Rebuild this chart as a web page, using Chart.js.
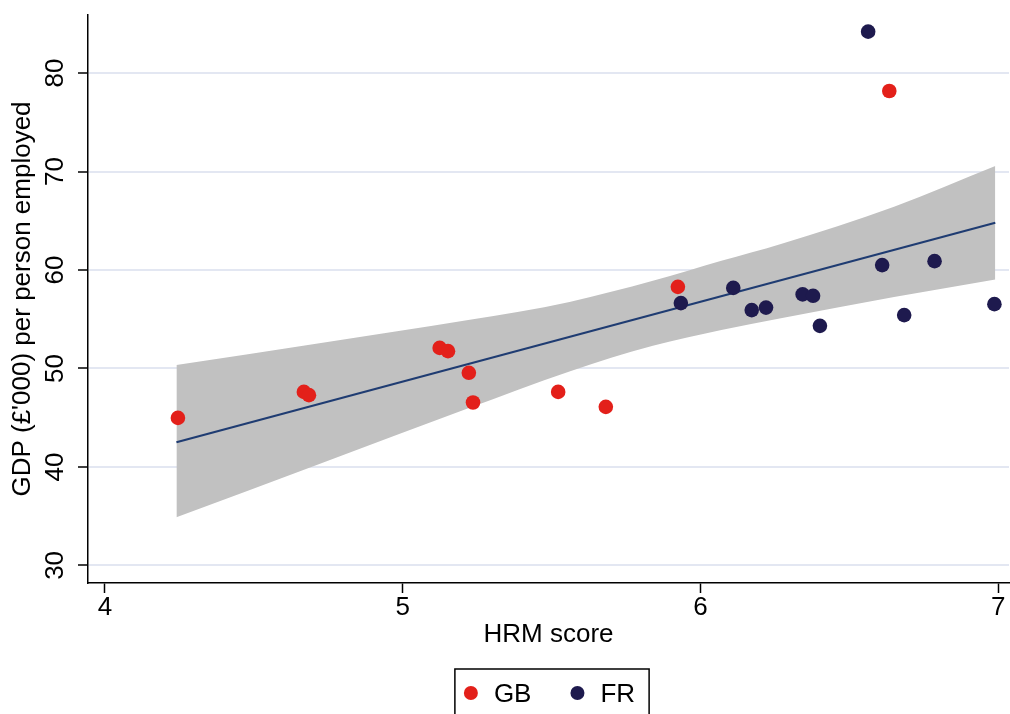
<!DOCTYPE html>
<html>
<head>
<meta charset="utf-8">
<script src="https://cdn.jsdelivr.net/npm/chart.js@4"></script>
<style>
  html, body { margin: 0; padding: 0; background: #fff; overflow: hidden; }
  canvas { display: block; }
</style>
</head>
<body>
<canvas id="chart" width="1010" height="714"></canvas>
<script>
// ---------------------------------------------------------------
// data
// ---------------------------------------------------------------
const gbX = [4.245, 4.668, 4.685, 5.124, 5.152, 5.222, 5.236, 5.522, 5.682, 5.924, 6.634];
const gbY = [44.98, 47.62, 47.29, 52.09, 51.76, 49.56, 46.54, 47.62, 46.10, 58.29, 78.18];

const frX = [6.563, 5.934, 6.110, 6.172, 6.220, 6.343, 6.378, 6.401, 6.610, 6.684, 6.786, 6.987];
const frY = [84.21, 56.64, 58.18, 55.93, 56.18, 57.52, 57.38, 54.33, 60.50, 55.42, 60.90, 56.53];

// fitted line and its confidence band
const fitX = [4.24, 6.99];
const fitY = [42.51, 64.80];
const bandX  = [4.24, 4.72, 5.22, 5.56, 5.84, 6.07, 6.27, 6.65, 6.99];
const bandHi = [50.34, 52.57, 54.91, 56.76, 58.90, 60.93, 62.65, 66.42, 70.56];
const bandLo = [34.89, 40.30, 45.95, 49.70, 52.30, 53.90, 55.10, 57.25, 59.04];

const xTicks = [4, 5, 6, 7];
const yTicks = [30, 40, 50, 60, 70, 80];

const xTitle = 'HRM score';
const yTitle = "GDP (£'000) per person employed";

// ---------------------------------------------------------------
// styles
// ---------------------------------------------------------------
const FONT = "'Liberation Sans', Arial, sans-serif";
const FS = 26;
const RED = '#e3201a';
const NAVY = '#1e1a4e';
const LINE = '#1f3c72';
const BAND = '#c1c1c1';
const GRID = '#e3e7f2';

const pts = (xs, ys) => xs.map((x, i) => ({ x: x, y: ys[i] }));

Chart.defaults.font.family = FONT;
Chart.defaults.color = '#000';

// rotated y tick labels (text reads upward, centred on the tick)
const yLabels = {
  id: 'yLabels',
  afterDraw(chart) {
    const s = chart.scales.y, ctx = chart.ctx;
    ctx.save();
    ctx.font = FS + 'px ' + FONT;
    ctx.fillStyle = '#000';
    ctx.textAlign = 'center';
    ctx.textBaseline = 'alphabetic';
    s.ticks.forEach(t => {
      ctx.save();
      ctx.translate(s.right - 25.5, s.getPixelForValue(t.value));
      ctx.rotate(-Math.PI / 2);
      ctx.fillText(String(t.value), 0, 0);
      ctx.restore();
    });
    ctx.restore();
  }
};

// legend with a frame, like the original
const boxLegend = {
  id: 'boxLegend',
  afterDraw(chart) {
    const ctx = chart.ctx;
    const items = chart.data.datasets.filter(d => d.inLegend);
    ctx.save();
    ctx.font = FS + 'px ' + FONT;
    const widths = items.map(d => ctx.measureText(d.label).width);
    let w = 16 + 14;
    widths.forEach((tw, i) => { w += 23 + tw + (i ? 46 : 0); });
    const cx = 552, top = 669, midY = 693;
    let left = cx - w / 2;
    ctx.strokeStyle = '#000';
    ctx.lineWidth = 1.5;
    ctx.strokeRect(left, top, w, 60);
    let x = left + 16;
    items.forEach((d, i) => {
      ctx.fillStyle = d.backgroundColor;
      ctx.beginPath();
      ctx.arc(x, midY, 7, 0, Math.PI * 2);
      ctx.fill();
      ctx.fillStyle = '#000';
      ctx.textAlign = 'left';
      ctx.textBaseline = 'alphabetic';
      ctx.fillText(d.label, x + 23, 702);
      x += 23 + widths[i] + 46;
    });
    ctx.restore();
  }
};

new Chart(document.getElementById('chart'), {
  type: 'scatter',
  data: {
    datasets: [
      {
        label: 'GB', inLegend: true,
        data: pts(gbX, gbY),
        backgroundColor: RED, borderColor: RED,
        pointRadius: 7.3, borderWidth: 0
      },
      {
        label: 'FR', inLegend: true,
        data: pts(frX, frY),
        backgroundColor: NAVY, borderColor: NAVY,
        pointRadius: 7.3, borderWidth: 0
      },
      {
        type: 'line', label: 'fit',
        data: pts(fitX, fitY),
        borderColor: LINE, borderWidth: 2.2,
        pointRadius: 0, fill: false
      },
      {
        type: 'line', label: 'lo',
        data: pts(bandX, bandLo),
        borderColor: 'rgba(0,0,0,0)', borderWidth: 0,
        pointRadius: 0, fill: false,
        cubicInterpolationMode: 'monotone'
      },
      {
        type: 'line', label: 'hi',
        data: pts(bandX, bandHi),
        borderColor: 'rgba(0,0,0,0)', borderWidth: 0,
        backgroundColor: BAND,
        pointRadius: 0, fill: '-1',
        cubicInterpolationMode: 'monotone'
      }
    ]
  },
  options: {
    responsive: false,
    animation: false,
    events: [],
    layout: { autoPadding: false, padding: { top: 15, right: 1, left: 0, bottom: 45 } },
    plugins: {
      legend: { display: false },
      tooltip: { enabled: false }
    },
    scales: {
      x: {
        type: 'linear', position: 'bottom',
        min: 3.943, max: 7.036,
        afterBuildTicks: s => { s.ticks = xTicks.map(v => ({ value: v })); },
        afterFit: s => { s.height = 86; s.paddingLeft = 0; s.paddingRight = 0; },
        ticks: { font: { size: FS, lineHeight: 1.15 }, color: '#000', padding: 0, maxRotation: 0 },
        grid: { drawOnChartArea: false, drawTicks: true, tickLength: 10, tickColor: '#000', tickWidth: 1.5 },
        border: { display: true, color: '#000', width: 1.5 },
        title: { display: true, text: xTitle, color: '#000',
                 font: { size: FS, lineHeight: 1.2 }, padding: { top: 0, bottom: 18.5 } }
      },
      y: {
        type: 'linear', position: 'left',
        min: 28.21, max: 85.9,
        afterBuildTicks: s => { s.ticks = yTicks.map(v => ({ value: v })); },
        afterFit: s => { s.width = 88; s.paddingTop = 0; s.paddingBottom = 0; },
        ticks: { display: false },
        grid: { color: GRID, lineWidth: 2, drawTicks: true, tickLength: 10, tickColor: '#000', tickWidth: 1.5 },
        border: { display: true, color: '#000', width: 1.5 },
        title: { display: true, text: yTitle, color: '#000',
                 font: { size: FS, lineHeight: 1.2 }, padding: { top: 7.5, bottom: 0 } }
      }
    }
  },
  plugins: [yLabels, boxLegend]
});
</script>
</body>
</html>
